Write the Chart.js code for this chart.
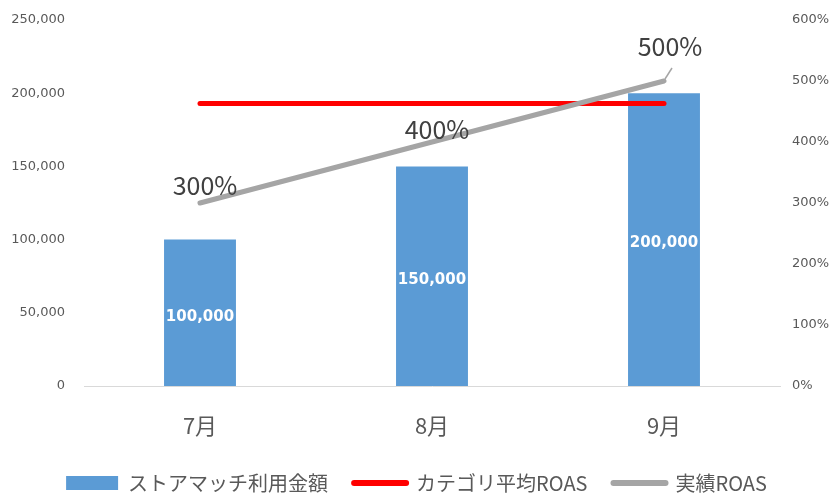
<!DOCTYPE html>
<html>
<head>
<meta charset="utf-8">
<script src="https://cdn.jsdelivr.net/npm/chart.js@4.4.1/dist/chart.umd.min.js"></script>
<style>
  html, body { margin: 0; padding: 0; background: #fff; }
  #wrap { width: 833px; height: 494px; }
</style>
</head>
<body>
<div id="wrap"><canvas id="chart" width="833" height="494"></canvas></div>
<script>
const months = ["7月", "8月", "9月"];
const usage = [100000, 150000, 200000];
const categoryRoas = [463, 463, 463];
const actualRoas = [300, 400, 500];
const seriesNames = ["ストアマッチ利用金額", "カテゴリ平均ROAS", "実績ROAS"];

const jpFont = '"Noto Sans CJK JP", "Noto Sans", sans-serif';
const numFont = '"DejaVu Sans", Verdana, sans-serif';

// white totals inside the bars, % labels above the ROAS line
const valueLabels = {
  id: "valueLabels",
  afterDatasetsDraw(chart) {
    const ctx = chart.ctx;
    ctx.save();
    ctx.textAlign = "center";
    ctx.textBaseline = "middle";

    ctx.font = "bold 15px " + numFont;
    ctx.fillStyle = "#ffffff";
    chart.getDatasetMeta(0).data.forEach((bar, i) => {
      ctx.fillText(usage[i].toLocaleString("en-US"), bar.x, (bar.y + bar.base) / 2 + 4);
    });

    const offsets = [[5, -18], [5, -13], [6, -35]];
    ctx.font = "25px " + jpFont;
    ctx.fillStyle = "#404040";
    chart.getDatasetMeta(2).data.forEach((pt, i) => {
      const [dx, dy] = offsets[i];
      if (i === 2) {
        // leader line
        ctx.strokeStyle = "#a5a5a5";
        ctx.lineWidth = 1.5;
        ctx.beginPath();
        ctx.moveTo(pt.x + 1, pt.y - 2);
        ctx.lineTo(pt.x + 8, pt.y - 13);
        ctx.stroke();
      }
      ctx.fillText(actualRoas[i] + "%", pt.x + dx, pt.y + dy);
    });
    ctx.restore();
  },
};

// keep the value axes from pushing the plot area down
const fitValueAxis = (width) => (scale) => {
  scale.width = width;
  scale.paddingTop = 0;
  scale.paddingBottom = 0;
};

new Chart(document.getElementById("chart"), {
  data: {
    labels: months,
    datasets: [
      {
        type: "bar",
        label: seriesNames[0],
        data: usage,
        backgroundColor: "#5b9bd5",
        yAxisID: "y",
        barPercentage: 0.31,
        categoryPercentage: 1,
        order: 3,
      },
      {
        type: "line",
        label: seriesNames[1],
        data: categoryRoas,
        borderColor: "#ff0000",
        borderWidth: 5,
        borderCapStyle: "round",
        pointRadius: 0,
        yAxisID: "y1",
        order: 2,
      },
      {
        type: "line",
        label: seriesNames[2],
        data: actualRoas,
        borderColor: "#a5a5a5",
        borderWidth: 5,
        borderCapStyle: "round",
        pointRadius: 0,
        yAxisID: "y1",
        order: 1,
      },
    ],
  },
  options: {
    responsive: false,
    animation: false,
    layout: { padding: { top: 20, bottom: 0, left: 0, right: 0 } },
    plugins: {
      tooltip: { enabled: false },
      legend: {
        position: "bottom",
        maxHeight: 47,
        labels: {
          usePointStyle: true,
          pointStyleWidth: 52,
          boxHeight: 14,
          padding: 26,
          color: "#595959",
          font: { family: jpFont, size: 20 },
          generateLabels(chart) {
            return chart.data.datasets.map((ds, i) => ({
              text: ds.label,
              datasetIndex: i,
              pointStyle: i === 0 ? "rect" : "line",
              fillStyle: i === 0 ? ds.backgroundColor : ds.borderColor,
              strokeStyle: i === 0 ? ds.backgroundColor : ds.borderColor,
              lineWidth: i === 0 ? 0 : 6,
              lineCap: "round",
              fontColor: "#595959",
              hidden: false,
            }));
          },
        },
      },
    },
    scales: {
      x: {
        grid: { display: false, drawTicks: false },
        border: { color: "#d9d9d9", width: 1 },
        ticks: { color: "#595959", padding: 26, font: { family: jpFont, size: 22 } },
        afterFit(scale) { scale.height = 61; },
      },
      y: {
        position: "left",
        min: 0,
        max: 250000,
        grid: { display: false, drawTicks: false },
        border: { display: false },
        ticks: {
          stepSize: 50000,
          color: "#595959",
          padding: 19,
          font: { family: numFont, size: 13 },
          callback: (v) => v.toLocaleString("en-US"),
        },
        afterFit: fitValueAxis(84),
      },
      y1: {
        position: "right",
        min: 0,
        max: 600,
        grid: { display: false, drawTicks: false },
        border: { display: false },
        ticks: {
          stepSize: 100,
          color: "#595959",
          padding: 12,
          font: { family: numFont, size: 13 },
          callback: (v) => v + "%",
        },
        afterFit: fitValueAxis(53),
      },
    },
  },
  plugins: [valueLabels],
});
</script>
</body>
</html>
